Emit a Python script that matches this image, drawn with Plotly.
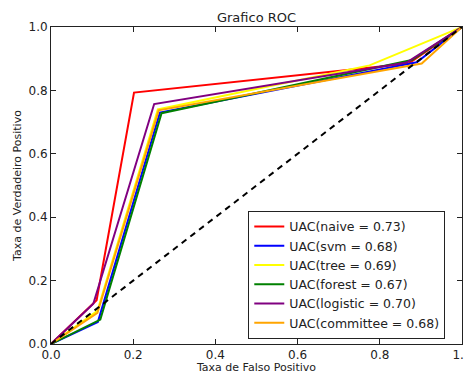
import plotly.graph_objects as go

names = ["naive", "svm", "tree", "forest", "logistic", "committee"]
aucs = [0.73, 0.68, 0.69, 0.67, 0.70, 0.68]
colors = ["red", "blue", "yellow", "green", "purple", "orange"]

fpr_naive = [0, 0.111, 0.202, 0.87, 1]
tpr_naive = [0, 0.138, 0.793, 0.885, 1]
fpr_svm = [0, 0.114, 0.265, 0.89, 1]
tpr_svm = [0, 0.069, 0.730, 0.889, 1]
fpr_tree = [0, 0.113, 0.260, 0.775, 1]
tpr_tree = [0, 0.105, 0.740, 0.879, 1]
fpr_forest = [0, 0.120, 0.269, 0.878, 1]
tpr_forest = [0, 0.077, 0.728, 0.896, 1]
fpr_logistic = [0, 0.103, 0.251, 0.865, 1]
tpr_logistic = [0, 0.127, 0.757, 0.888, 1]
fpr_committee = [0, 0.113, 0.262, 0.902, 1]
tpr_committee = [0, 0.098, 0.737, 0.885, 1]

fprs = [fpr_naive, fpr_svm, fpr_tree, fpr_forest, fpr_logistic, fpr_committee]
tprs = [tpr_naive, tpr_svm, tpr_tree, tpr_forest, tpr_logistic, tpr_committee]

diag = [0, 1]
tick_vals = [0.0, 0.2, 0.4, 0.6, 0.8, 1.0]
tick_text = ["0.0", "0.2", "0.4", "0.6", "0.8", "1.0"]

fig = go.Figure()
for n, a, c, x, y in zip(names, aucs, colors, fprs, tprs):
    fig.add_trace(go.Scatter(x=x, y=y, mode="lines", name=f"UAC({n} = {a:.2f})",
                             line=dict(color=c, width=2)))
fig.add_trace(go.Scatter(x=diag, y=diag, mode="lines", showlegend=False,
                         line=dict(color="black", width=2, dash="6px,5px")))

axis_common = dict(range=[0, 1], tickvals=tick_vals, ticktext=tick_text,
                   showgrid=False, zeroline=False, showline=True, linecolor="#222",
                   linewidth=1, mirror="ticks", ticks="inside", ticklen=5,
                   tickcolor="#222", tickfont=dict(size=12, color="#222"),
                   automargin=False)

fig.update_layout(
    width=472, height=366,
    margin=dict(l=43, r=18, t=19, b=30),
    paper_bgcolor="white", plot_bgcolor="white",
    font=dict(family="DejaVu Sans", color="#222"),
    title=dict(text="Grafico ROC", xref="paper", x=0.5, xanchor="center",
               y=0.975, yanchor="middle", font=dict(size=13)),
    xaxis=dict(axis_common,
               title=dict(text="Taxa de Falso Positivo", font=dict(size=11), standoff=0)),
    yaxis=dict(axis_common,
               title=dict(text="Taxa de Verdadeiro Positivo", font=dict(size=11), standoff=4)),
    legend=dict(x=0.48, y=0.016, xanchor="left", yanchor="bottom",
                bordercolor="#222", borderwidth=1, bgcolor="white",
                font=dict(size=12.5), tracegroupgap=0, itemwidth=30),
    showlegend=True,
)

fig.write_html("out.html")
